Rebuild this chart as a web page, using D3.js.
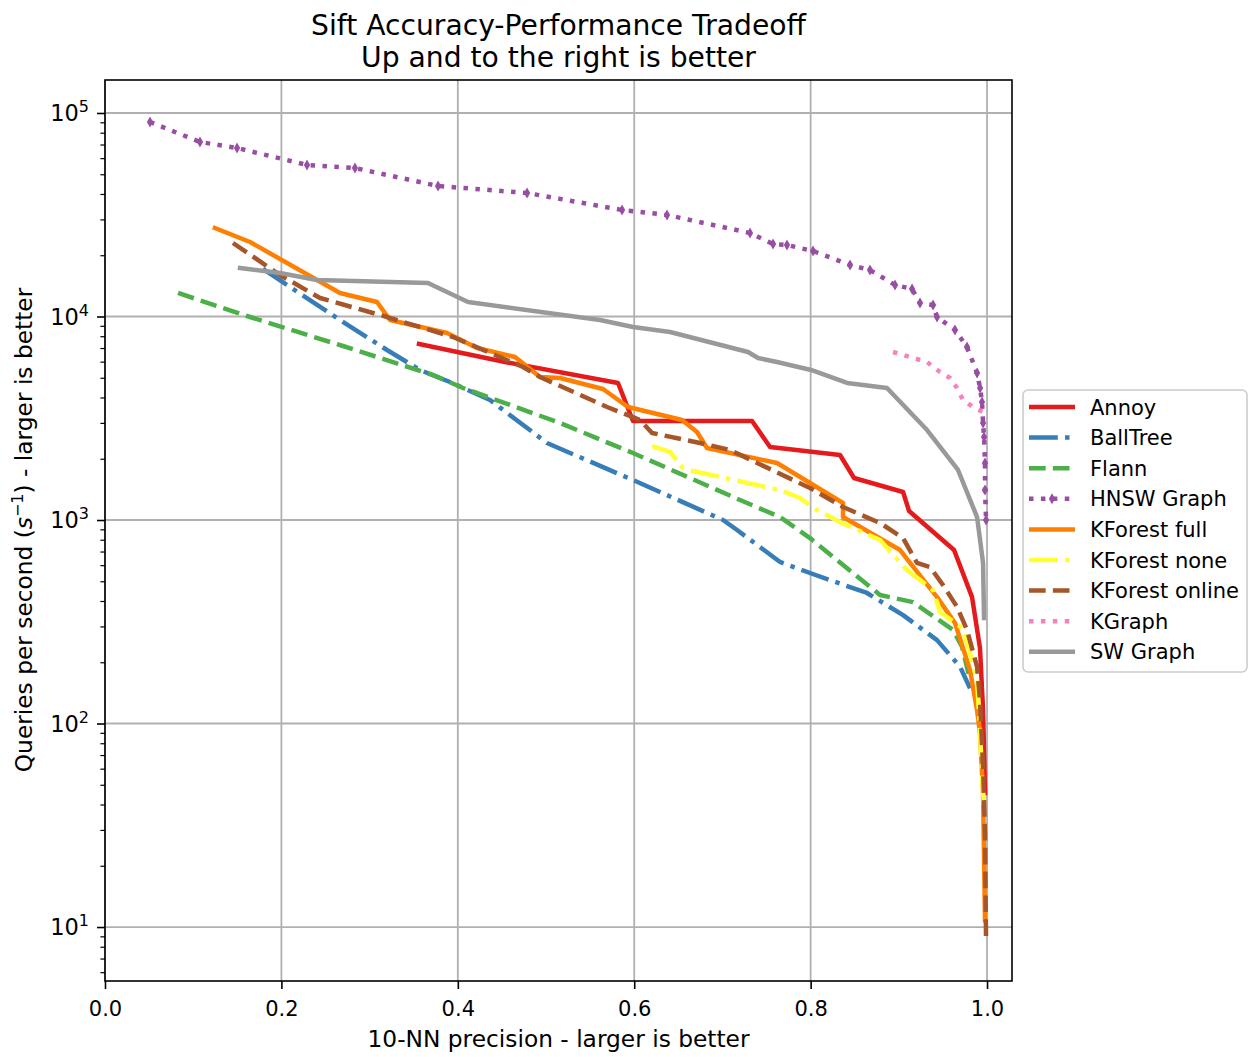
<!DOCTYPE html>
<html>
<head>
<meta charset="utf-8">
<script src="https://cdn.jsdelivr.net/npm/d3@7"></script>
<style>
  body { margin: 0; background: #fff; }
  text { font-family: "DejaVu Sans", sans-serif; fill: #000; }
</style>
</head>
<body>
<div id="chart"></div>
<script>
// values: [10-NN precision, queries per second]
var annoy = [[0.356,7326],[0.4535,5975],[0.5816,4714],[0.5986,3066],[0.7336,3066],[0.754,2284],
  [0.8333,2086],[0.8492,1608],[0.9048,1373],[0.9116,1107],[0.9626,712],[0.983,418],[0.992,235],
  [0.9955,116],[0.9977,45.5]];
var ballTree = [[0.179,17120],[0.1893,15995],[0.263,9831],[0.3197,6845],[0.3571,5460],[0.391,4767],
  [0.4365,3888],[0.5011,2390],[0.5986,1572],[0.7007,1000],[0.7166,893],[0.7653,622],[0.7993,549],
  [0.8639,438],[0.9048,341],[0.9433,257],[0.9694,190],[0.9807,149]];
var flann = [[0.0828,13050],[0.1644,9943],[0.2698,7161],[0.3719,5158],[0.4059,4453],[0.5159,2997],
  [0.5986,2134],[0.72,1254],[0.7653,1034],[0.7993,815],[0.8787,428],[0.9161,395],[0.9615,288],
  [0.9717,238],[0.9807,164]];
var hnsw = [[0.051,90330],[0.1077,72040],[0.1497,67300],[0.229,55540],[0.2834,53660],[0.3776,43780],
  [0.4785,40450],[0.5862,33370],[0.6372,31540],[0.7313,25720],[0.7574,22720],[0.7732,22460],
  [0.8027,20980],[0.8447,17910],[0.8673,16920],[0.8957,14280],[0.915,13650],[0.924,11650],
  [0.9388,11390],[0.9433,9943],[0.9637,8584],[0.9773,7083],[0.9887,5277],[0.9921,4453],
  [0.9943,3801],[0.9955,2997],[0.9966,2557],[0.9977,1906],[0.9977,1404],[0.9989,1000]];
var kforestFull = [[0.1247,27220],[0.1644,23240],[0.2664,13050],[0.3084,11780],[0.3231,9612],
  [0.3878,8296],[0.4218,7003],[0.4649,6324],[0.4932,5043],[0.5159,4987],[0.5646,4403],[0.593,3592],
  [0.6542,3101],[0.6712,2706],[0.6825,2258],[0.7619,1906],[0.8367,1212],[0.8367,1034],[0.9014,712],
  [0.9433,418],[0.9637,312],[0.9807,183],[0.9887,116],[0.992,90],[0.9955,45.5],[0.9977,10.8]];
var kforestNone = [[0.6202,2310],[0.6406,2159],[0.6553,1800],[0.6667,1741],[0.7653,1404],[0.788,1283],
  [0.8027,1146],[0.8333,978],[0.8787,797],[0.9093,568],[0.9388,453],[0.9467,353],[0.9717,295],
  [0.9807,222],[0.9887,164],[0.992,93],[0.9943,54.6],[0.9966,39.8]];
var kforestOnline = [[0.1451,22970],[0.1984,15995],[0.2438,12330],[0.3118,10170],[0.3946,7931],
  [0.4739,5647],[0.4932,5043],[0.5692,3592],[0.6066,3101],[0.6202,2676],[0.6746,2390],[0.7086,2208],
  [0.7993,1436],[0.8367,1158],[0.8787,967],[0.9048,815],[0.9206,615],[0.9354,587],[0.9501,479],
  [0.966,374],[0.9773,288],[0.9887,190],[0.992,130],[0.9955,61],[0.9977,29],[0.9989,8.44]];
var kgraph = [[0.8934,6693],[0.932,5975],[0.9467,5337],[0.958,4987],[0.966,4453],[0.9728,3888],
  [0.9841,3592],[0.9955,3394]];
var swGraph = [[0.1531,17310],[0.1984,16360],[0.2404,15120],[0.3662,14610],[0.4116,11780],
  [0.5612,9612],[0.5986,8878],[0.6406,8390],[0.6893,7409],[0.729,6693],[0.7404,6253],[0.7619,5975],
  [0.8005,5460],[0.8413,4714],[0.8866,4453],[0.932,2768],[0.9671,1761],[0.9887,1034],[0.9955,615],
  [0.9966,330]];

var names = ["Annoy","BallTree","Flann","HNSW Graph","KForest full","KForest none","KForest online","KGraph","SW Graph"];
var seriesData = [annoy, ballTree, flann, hnsw, kforestFull, kforestNone, kforestOnline, kgraph, swGraph];
var colors = ["#e41a1c","#377eb8","#4daf4a","#984ea3","#ff7f00","#ffff33","#a65628","#f781bf","#999999"];
var styles = ["solid","dashdot","dashed","dotted","solid","dashdot","dashed","dotted","solid"];

var xTicks = [0, 0.2, 0.4, 0.6, 0.8, 1.0];
var yTicks = [10, 100, 1000, 10000, 100000];

var W = 1250, H = 1057;
var margin = {top: 80, left: 105},
    width = 907,
    height = 901;
var lw = 4.5;
var dashes = {
  solid: null,
  dashed: [3.7*lw, 1.6*lw].join(","),
  dashdot: [6.4*lw, 1.6*lw, 1*lw, 1.6*lw].join(","),
  dotted: [1*lw, 1.65*lw].join(",")
};

var svg = d3.select("#chart").append("svg")
  .attr("width", W).attr("height", H);
svg.append("rect").attr("width", W).attr("height", H).attr("fill", "#fff");

var g = svg.append("g")
  .attr("transform", "translate(" + margin.left + "," + margin.top + ")");

var x = d3.scaleLinear().domain([0, 1.0283]).range([0, width]);
var y = d3.scaleLog().domain([5.43, 145250]).range([height, 0]);

// grid
g.append("g").selectAll("line").data(xTicks).enter().append("line")
  .attr("x1", d => x(d)).attr("x2", d => x(d))
  .attr("y1", 0).attr("y2", height)
  .attr("stroke", "#b0b0b0").attr("stroke-width", 1.8);
g.append("g").selectAll("line").data(yTicks).enter().append("line")
  .attr("x1", 0).attr("x2", width)
  .attr("y1", d => y(d)).attr("y2", d => y(d))
  .attr("stroke", "#b0b0b0").attr("stroke-width", 1.8);

// lines
var line = d3.line().x(d => x(d[0])).y(d => y(d[1]));
seriesData.forEach(function (data, i) {
  g.append("path")
    .datum(data)
    .attr("d", line)
    .attr("fill", "none")
    .attr("stroke", colors[i])
    .attr("stroke-width", lw)
    .attr("stroke-linejoin", "round")
    .attr("stroke-linecap", styles[i] == "solid" ? "square" : "butt")
    .attr("stroke-dasharray", dashes[styles[i]]);
});

// small diamond markers on HNSW
g.append("g").selectAll("path").data(hnsw).enter().append("path")
  .attr("d", d3.symbol().type(d3.symbolDiamond).size(34))
  .attr("transform", d => "translate(" + x(d[0]) + "," + y(d[1]) + ")")
  .attr("fill", colors[3]);

// axes
var xAxis = g.append("g")
  .attr("transform", "translate(0," + height + ")")
  .call(d3.axisBottom(x).tickValues(xTicks).tickSize(8).tickPadding(5).tickFormat(d3.format(".1f")));
xAxis.select(".domain").remove();
xAxis.selectAll("line").attr("stroke", "#000").attr("stroke-width", 1.6);
xAxis.selectAll("text").style("font-size", "21px").attr("dy", "1.05em");

var minor = [];
for (var e = 0; e <= 5; e++) {
  for (var m = 2; m <= 9; m++) {
    var v = m * Math.pow(10, e);
    if (v >= 5.43 && v <= 145250) minor.push(v);
  }
}
var yMinor = g.append("g")
  .call(d3.axisLeft(y).tickValues(minor).tickSize(4.6).tickFormat(""));
yMinor.select(".domain").remove();
yMinor.selectAll("line").attr("stroke", "#000").attr("stroke-width", 1.2);

var yAxis = g.append("g")
  .call(d3.axisLeft(y).tickValues(yTicks).tickSize(8).tickFormat(""));
yAxis.select(".domain").remove();
yAxis.selectAll("line").attr("stroke", "#000").attr("stroke-width", 1.6);

var yLab = g.append("g").selectAll("text").data(yTicks).enter().append("text")
  .attr("x", -16).attr("y", d => y(d) + 8)
  .attr("text-anchor", "end")
  .style("font-size", "22.5px");
yLab.append("tspan").text("10");
yLab.append("tspan").attr("dy", -9).style("font-size", "16px")
  .text(d => Math.round(Math.log10(d)));

// spines
g.append("rect")
  .attr("width", width).attr("height", height)
  .attr("fill", "none").attr("stroke", "#000").attr("stroke-width", 1.6);

// title
svg.append("text").attr("x", 558.5).attr("y", 35).attr("text-anchor", "middle")
  .style("font-size", "28.2px").text("Sift Accuracy-Performance Tradeoff");
svg.append("text").attr("x", 558.5).attr("y", 67).attr("text-anchor", "middle")
  .style("font-size", "28.2px").text("Up and to the right is better");

// axis labels
svg.append("text").attr("x", 558.5).attr("y", 1047).attr("text-anchor", "middle")
  .style("font-size", "23.3px").text("10-NN precision - larger is better");

var yl = svg.append("text")
  .attr("transform", "translate(32,530) rotate(-90)")
  .attr("text-anchor", "middle")
  .style("font-size", "23.3px");
yl.append("tspan").text("Queries per second (");
yl.append("tspan").style("font-style", "italic").text("s");
yl.append("tspan").attr("dy", -9).style("font-size", "16px").text("\u22121");
yl.append("tspan").attr("dy", 9).text(") - larger is better");

// legend
var legend = svg.append("g").attr("transform", "translate(1023,390)");
legend.append("rect")
  .attr("width", 224).attr("height", 282).attr("rx", 5)
  .attr("fill", "#fff").attr("fill-opacity", 0.8)
  .attr("stroke", "#cccccc").attr("stroke-width", 1.6);
names.forEach(function (name, i) {
  var ly = 17 + i * 30.6;
  legend.append("line")
    .attr("x1", 6).attr("x2", 52).attr("y1", ly).attr("y2", ly)
    .attr("stroke", colors[i]).attr("stroke-width", lw)
    .attr("stroke-dasharray", dashes[styles[i]]);
  if (i == 3) {
    legend.append("path")
      .attr("d", d3.symbol().type(d3.symbolDiamond).size(34))
      .attr("transform", "translate(29," + ly + ")")
      .attr("fill", colors[i]);
  }
  legend.append("text").attr("x", 67).attr("y", ly + 7.5)
    .style("font-size", "21px").text(name);
});
</script>
</body>
</html>
